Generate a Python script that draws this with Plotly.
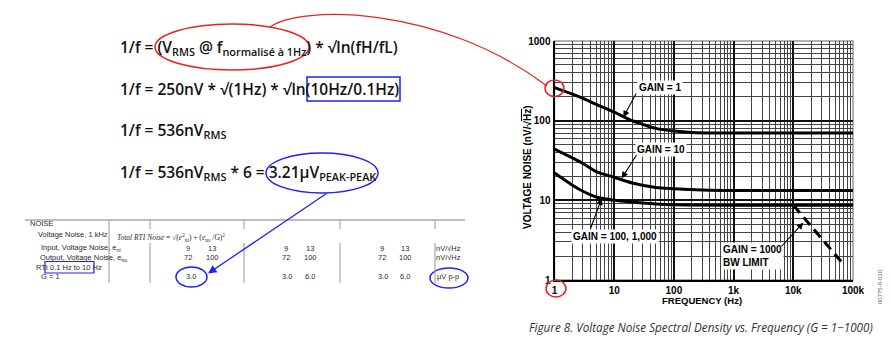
import plotly.graph_objects as go

# ---- chart data (nV/sqrt(Hz) vs Hz) ----
freq_g1 = [1, 2, 3, 5, 10, 20, 30, 50, 100, 200, 500, 1000, 10000, 100000]
noise_g1 = [260, 215, 190, 160, 128, 100, 90, 80, 74, 71, 70, 70, 70, 70]

freq_g10 = [1, 2, 3, 5, 10, 20, 50, 100, 300, 1000, 10000, 100000]
noise_g10 = [44, 34, 29, 23, 19.5, 16.5, 14.5, 14, 13.5, 13.3, 13.3, 13.3]

freq_g100 = [1, 2, 3, 5, 10, 20, 50, 100, 1000, 10000, 100000]
noise_g100 = [22, 15.5, 13, 11, 10, 9.5, 9, 8.8, 8.7, 8.7, 8.7]

freq_bw = [10000, 68000]
noise_bw = [8.7, 1.6]

x_tick_vals = [1, 10, 100, 1000, 10000, 100000]
x_tick_text = ["1", "10", "100", "1k", "10k", "100k"]
y_tick_vals = [1, 10, 100, 1000]
y_tick_text = ["1", "10", "100", "1000"]

# ---- figure geometry ----
W, H = 890, 345


def px(x):
    return x / W


def py(y):
    return 1 - y / H


fig = go.Figure()

for f, v in [(freq_g1, noise_g1), (freq_g10, noise_g10), (freq_g100, noise_g100)]:
    fig.add_trace(go.Scatter(x=f, y=v, mode="lines",
                             line=dict(color="black", width=3, shape="spline", smoothing=0.8),
                             showlegend=False, hoverinfo="skip"))
fig.add_trace(go.Scatter(x=freq_bw, y=noise_bw, mode="lines",
                         line=dict(color="black", width=3, dash="10px,6px"),
                         showlegend=False, hoverinfo="skip"))

decades = range(5)
minor_x = [m * 10 ** k for k in decades for m in range(2, 10)]
minor_y = [m * 10 ** k for k in range(3) for m in range(2, 10)]

tick_font = dict(family="Liberation Sans", size=10, color="black", weight="bold")

fig.update_xaxes(type="log", range=[0, 5], domain=[554.5 / W, 853 / W],
                 tickmode="array", tickvals=x_tick_vals, ticktext=x_tick_text,
                 showgrid=True, gridcolor="#111", gridwidth=1.6,
                 minor=dict(tickmode="array", tickvals=minor_x, showgrid=True,
                            gridcolor="#444", gridwidth=1, ticks=""),
                 ticks="", showline=True, linecolor="black", linewidth=2,
                 tickfont=tick_font, zeroline=False, automargin=False)
fig.update_yaxes(type="log", range=[0, 3], domain=[1 - 280 / H, 1 - 41 / H],
                 tickmode="array", tickvals=y_tick_vals, ticktext=y_tick_text,
                 showgrid=True, gridcolor="#111", gridwidth=1.6,
                 minor=dict(tickmode="array", tickvals=minor_y, showgrid=True,
                            gridcolor="#444", gridwidth=1, ticks=""),
                 ticks="", showline=True, linecolor="black", linewidth=2,
                 tickfont=tick_font, zeroline=False, automargin=False)

shapes = []
# frame of the plot area
shapes.append(dict(type="rect", xref="x domain", yref="y domain", x0=0, x1=1, y0=0, y1=1,
                   line=dict(color="#999", width=1.5), layer="below"))

RED = "#e8231f"
BLUE = "#1f1fff"


def ellipse(x0, x1, y0, y1, color, width=1.5):
    return dict(type="circle", xref="paper", yref="paper",
                x0=px(x0), x1=px(x1), y0=py(y1), y1=py(y0),
                line=dict(color=color, width=width))


def box(x0, x1, y0, y1, color, width=1.5):
    return dict(type="rect", xref="paper", yref="paper",
                x0=px(x0), x1=px(x1), y0=py(y1), y1=py(y0),
                line=dict(color=color, width=width))


def seg(x0, y0, x1, y1, color="#a8a8a8", width=1.2):
    return dict(type="line", xref="paper", yref="paper",
                x0=px(x0), x1=px(x1), y0=py(y0), y1=py(y1),
                line=dict(color=color, width=width))


shapes += [
    ellipse(155, 309, 24, 70, RED),
    box(307, 400, 77, 101, BLUE),
    ellipse(266, 378, 153, 193, BLUE),
    ellipse(545, 564, 80, 96.5, RED),
    ellipse(546, 566, 280, 297, RED),
    box(45, 94, 261.5, 273, BLUE, 1.2),
    ellipse(176, 207, 267, 287, BLUE),
    ellipse(430, 468, 268, 288, BLUE),
]

# connector from the formula to the start of the curve
p0, p1, p2, p3 = (270, 27), (300, 5), (440, 5), (547, 86)
path = "M {},{} C {},{} {},{} {},{}".format(
    px(p0[0]), py(p0[1]), px(p1[0]), py(p1[1]), px(p2[0]), py(p2[1]), px(p3[0]), py(p3[1]))
shapes.append(dict(type="path", xref="paper", yref="paper", path=path,
                   line=dict(color=RED, width=1.2)))

# table rules
shapes.append(seg(25, 220, 465, 220, width=1.5))
shapes.append(seg(109, 220, 109, 283))
for xv in [150, 244, 340, 435]:
    shapes.append(seg(xv, 220, xv, 229))
    shapes.append(seg(xv, 243, xv, 283))

annotations = []

formula_font = dict(family="Open Sans", size=15.5, color="#111", weight=600)
formulas = [
    (47, "1/f = (V<sub>RMS</sub> @ f<sub>normalisé à 1Hz</sub>) * √ln(fH/fL)"),
    (89, "1/f = 250nV * √(1Hz) * √ln(10Hz/0.1Hz)"),
    (130, "1/f = 536nV<sub>RMS</sub>"),
    (172, "1/f = 536nV<sub>RMS</sub> * 6 = 3.21µV<sub>PEAK-PEAK</sub>"),
]
for yv, t in formulas:
    annotations.append(dict(xref="paper", yref="paper", x=px(118), y=py(yv), text=t,
                            showarrow=False, xanchor="left", yanchor="middle", font=formula_font))

# small datasheet table
tfont = dict(family="Liberation Sans", size=7.5, color="#2a2a2a")
table_text = [
    (28, 224, "NOISE", "left"),
    (36, 234.5, "Voltage Noise, 1 kHz", "left"),
    (39, 248, "Input, Voltage Noise, e<sub>ni</sub>", "left"),
    (38, 257.5, "Output, Voltage Noise, e<sub>no</sub>", "left"),
    (34, 267, "RTI", "left"),
    (48, 267, "0.1 Hz to 10 Hz", "left"),
    (39, 276.5, "G = 1", "left"),
]
for xv, yv, t, a in table_text:
    annotations.append(dict(xref="paper", yref="paper", x=px(xv), y=py(yv), text=t,
                            showarrow=False, xanchor=a, yanchor="middle", font=tfont))

annotations.append(dict(xref="paper", yref="paper", x=px(115), y=py(237), showarrow=False,
                        xanchor="left", yanchor="middle",
                        text="<i>Total RTI Noise</i> = √(<i>e</i><sup>2</sup><sub>ni</sub>) + (<i>e</i><sub>no</sub> /G)<sup>2</sup>",
                        font=dict(family="Liberation Serif", size=7.5, color="#2a2a2a")))

col_groups = [(188, 212), (286, 310), (382, 405)]
for c9, c13 in col_groups:
    for yv, a, b in [(248, "9", "13"), (257.5, "72", "100")]:
        annotations.append(dict(xref="paper", yref="paper", x=px(c9), y=py(yv), text=a,
                                showarrow=False, xanchor="center", yanchor="middle", font=tfont))
        annotations.append(dict(xref="paper", yref="paper", x=px(c13), y=py(yv), text=b,
                                showarrow=False, xanchor="center", yanchor="middle", font=tfont))
for xv, t in [(191, "3.0"), (286.5, "3.0"), (310, "6.0"), (383, "3.0"), (405, "6.0")]:
    annotations.append(dict(xref="paper", yref="paper", x=px(xv), y=py(276.5), text=t,
                            showarrow=False, xanchor="center", yanchor="middle", font=tfont))
for yv, t in [(248, "nV/√Hz"), (257.5, "nV/√Hz"), (276.5, "µV p-p")]:
    annotations.append(dict(xref="paper", yref="paper", x=px(448), y=py(yv), text=t,
                            showarrow=False, xanchor="center", yanchor="middle", font=tfont))

# arrow from the result to the table value
annotations.append(dict(xref="paper", yref="paper", x=px(208), y=py(273.5), text="",
                        showarrow=True, ax=120, ay=-81, arrowhead=2, arrowsize=1.3,
                        arrowwidth=1.3, arrowcolor=BLUE))

# chart labels
lab_font = dict(family="Liberation Sans", size=10, color="black", weight="bold")
labels = [
    (660, 87, "GAIN = 1"),
    (661, 149, "GAIN = 10"),
    (614.5, 236.5, "GAIN = 100, 1,000"),
]
for xv, yv, t in labels:
    annotations.append(dict(xref="paper", yref="paper", x=px(xv), y=py(yv), text=t,
                            showarrow=False, xanchor="center", yanchor="middle",
                            bgcolor="white", borderpad=1, font=lab_font))
annotations.append(dict(xref="paper", yref="paper", x=px(721), y=py(255.5),
                        text="GAIN = 1000<br>BW LIMIT", align="left",
                        showarrow=False, xanchor="left", yanchor="middle",
                        bgcolor="white", borderpad=1, font=lab_font))

arrows = [
    ((623.3, 117.3), (637, 92)),
    ((621.7, 178.3), (637.5, 153.5)),
    ((601.7, 198.3), (590, 230)),
    ((803.3, 222.7), (780, 248)),
]
for (tx, ty), (sx, sy) in arrows:
    annotations.append(dict(xref="paper", yref="paper", x=px(tx), y=py(ty), text="",
                            showarrow=True, ax=sx - tx, ay=sy - ty, arrowhead=2,
                            arrowsize=1.2, arrowwidth=1.1, arrowcolor="black"))

# axis titles
annotations.append(dict(xref="paper", yref="paper", x=px(527), y=py(168),
                        text="VOLTAGE NOISE (nV/√<span style='text-decoration:overline'>Hz</span>)",
                        textangle=-90, showarrow=False, xanchor="center", yanchor="middle",
                        font=dict(family="Liberation Sans", size=10, color="black", weight="bold")))
annotations.append(dict(xref="paper", yref="paper", x=px(702), y=py(300.5),
                        text="FREQUENCY (Hz)", showarrow=False, xanchor="center", yanchor="middle",
                        font=dict(family="Liberation Sans", size=9.5, color="black", weight="bold")))
annotations.append(dict(xref="paper", yref="paper", x=px(880), y=py(287),
                        text="00775-0-010", textangle=-90, showarrow=False,
                        xanchor="center", yanchor="middle",
                        font=dict(family="Liberation Sans", size=6, color="#666")))
annotations.append(dict(xref="paper", yref="paper", x=px(527), y=py(327),
                        text="<i>Figure 8. Voltage Noise Spectral Density vs. Frequency (G = 1−1000)</i>",
                        showarrow=False, xanchor="left", yanchor="middle",
                        font=dict(family="Open Sans", size=11.7, color="#333")))

fig.update_layout(width=W, height=H, margin=dict(l=0, r=0, t=0, b=0, autoexpand=False),
                  paper_bgcolor="white", plot_bgcolor="white",
                  shapes=shapes, annotations=annotations, showlegend=False)

# the page itself gets no body margin so the figure sits at the window origin
fig.write_html("out.html",
               post_script="document.body.style.margin='0';document.body.style.overflow='hidden';")
